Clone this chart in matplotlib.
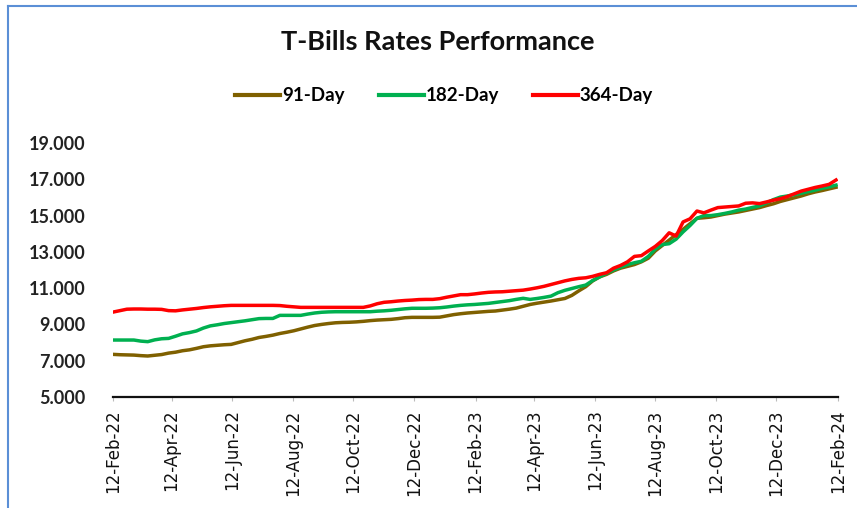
import matplotlib
matplotlib.use('Agg')
import matplotlib.pyplot as plt
import matplotlib.dates as mdates
from matplotlib.lines import Line2D
import pandas as pd

# weekly auction dates
dates = pd.date_range('2022-02-12', periods=105, freq='7D')

rate91 = [7.35, 7.33, 7.32, 7.31, 7.28, 7.26, 7.30, 7.34, 7.42, 7.47,
          7.55, 7.60, 7.68, 7.77, 7.82, 7.85, 7.88, 7.90, 8.00, 8.10,
          8.18, 8.28, 8.34, 8.41, 8.50, 8.57, 8.65, 8.75, 8.85, 8.94,
          9.00, 9.05, 9.09, 9.11, 9.12, 9.14, 9.17, 9.21, 9.24, 9.26,
          9.28, 9.32, 9.37, 9.39, 9.39, 9.39, 9.39, 9.40, 9.47, 9.54,
          9.59, 9.63, 9.66, 9.69, 9.72, 9.74, 9.79, 9.84, 9.90, 10.00,
          10.10, 10.17, 10.23, 10.29, 10.36, 10.43, 10.60, 10.85, 11.08, 11.40,
          11.62, 11.76, 11.95, 12.10, 12.20, 12.30, 12.45, 12.65, 13.05, 13.35,
          13.65, 13.95, 14.24, 14.55, 14.85, 14.88, 14.92, 15.00, 15.08, 15.14,
          15.20, 15.28, 15.36, 15.44, 15.55, 15.65, 15.78, 15.88, 15.98, 16.08,
          16.20, 16.30, 16.38, 16.47, 16.56]

rate182 = [8.14, 8.14, 8.14, 8.14, 8.08, 8.05, 8.15, 8.21, 8.23, 8.35,
           8.48, 8.55, 8.64, 8.80, 8.92, 8.98, 9.05, 9.10, 9.15, 9.20,
           9.26, 9.32, 9.33, 9.33, 9.50, 9.50, 9.50, 9.50, 9.57, 9.63,
           9.67, 9.69, 9.70, 9.70, 9.70, 9.70, 9.70, 9.70, 9.73, 9.75,
           9.78, 9.82, 9.86, 9.89, 9.89, 9.89, 9.90, 9.92, 9.96, 10.01,
           10.05, 10.08, 10.10, 10.13, 10.16, 10.21, 10.26, 10.31, 10.38, 10.44,
           10.38, 10.43, 10.49, 10.56, 10.75, 10.88, 10.98, 11.08, 11.17, 11.42,
           11.62, 11.82, 12.00, 12.15, 12.30, 12.40, 12.48, 12.75, 13.15, 13.40,
           13.45, 13.70, 14.10, 14.45, 14.85, 15.00, 15.00, 15.05, 15.12, 15.20,
           15.30, 15.36, 15.45, 15.53, 15.70, 15.88, 16.02, 16.08, 16.15, 16.23,
           16.32, 16.40, 16.50, 16.58, 16.68]

rate364 = [9.68, 9.76, 9.84, 9.85, 9.85, 9.84, 9.84, 9.83, 9.76, 9.75,
           9.80, 9.84, 9.88, 9.93, 9.97, 10.00, 10.03, 10.05, 10.05, 10.05,
           10.05, 10.05, 10.05, 10.05, 10.04, 10.00, 9.97, 9.94, 9.94, 9.94,
           9.94, 9.94, 9.94, 9.94, 9.94, 9.94, 9.94, 10.02, 10.14, 10.22,
           10.25, 10.29, 10.32, 10.34, 10.37, 10.38, 10.38, 10.42, 10.50, 10.57,
           10.64, 10.64, 10.68, 10.73, 10.77, 10.79, 10.80, 10.83, 10.86, 10.89,
           10.95, 11.02, 11.10, 11.20, 11.30, 11.40, 11.48, 11.54, 11.57, 11.65,
           11.76, 11.85, 12.10, 12.25, 12.45, 12.75, 12.79, 13.05, 13.30, 13.62,
           14.05, 13.87, 14.65, 14.82, 15.25, 15.15, 15.30, 15.44, 15.47, 15.50,
           15.53, 15.68, 15.70, 15.66, 15.75, 15.85, 15.93, 16.05, 16.20, 16.35,
           16.45, 16.55, 16.63, 16.72, 16.96]

labels = ['91-Day', '182-Day', '364-Day']
colors = ['#7F6000', '#00B050', '#FF0000']
yticks = [5, 7, 9, 11, 13, 15, 17, 19]
xtick_dates = ['2022-02-12', '2022-04-12', '2022-06-12', '2022-08-12', '2022-10-12',
               '2022-12-12', '2023-02-12', '2023-04-12', '2023-06-12', '2023-08-12',
               '2023-10-12', '2023-12-12', '2024-02-12']

fig = plt.figure(figsize=(8.57, 5.08), dpi=100)
ax = fig.add_axes([113/857, 1 - 397/508, (838 - 113)/857, (397 - 143)/508])

for series, lab, col in zip([rate91, rate182, rate364], labels, colors):
    ax.plot(dates, series, color=col, linewidth=2.5, label=lab, solid_joinstyle='round')

ax.set_ylim(5, 19)
ax.set_xlim(pd.Timestamp('2022-02-12'), pd.Timestamp('2024-02-12'))
ax.set_yticks(yticks)
ax.set_yticklabels(['%.3f' % v for v in yticks], fontfamily='Lato',
                   fontweight='bold', fontsize=13, color='#222222')
ax.tick_params(axis='y', length=0, pad=20)

ax.set_xticks(pd.to_datetime(xtick_dates))
ax.xaxis.set_major_formatter(mdates.DateFormatter('%d-%b-%y'))
for t in ax.get_xticklabels():
    t.set_rotation(90)
    t.set_fontsize(12)
    t.set_fontfamily('DejaVu Sans')
    t.set_color('#111111')
ax.tick_params(axis='x', length=3, color='#bbbbbb', pad=6)

for s in ['left', 'right', 'top']:
    ax.spines[s].set_visible(False)
ax.spines['bottom'].set_linewidth(1.6)
ax.spines['bottom'].set_color('#111111')

fig.text(438/857, 1 - 42/508, 'T-Bills Rates Performance', ha='center', va='center',
         fontfamily='Lato', fontweight='bold', fontsize=19.5, color='#111111')

handles = [Line2D([], [], color=c, linewidth=3) for c in colors]
leg = fig.legend(handles, labels, loc='center', bbox_to_anchor=(444/857, 1 - 96/508),
                 ncol=3, frameon=False, handlelength=2.4, handletextpad=0.1,
                 columnspacing=1.8, prop={'family': 'Lato', 'weight': 'bold', 'size': 13.5})

# chart area border (left and top edge visible)
fig.add_artist(Line2D([8/857, 8/857], [0, 1 - 6/508], transform=fig.transFigure,
                      color='#5B8FD6', linewidth=1.5))
fig.add_artist(Line2D([8/857, 1], [1 - 6/508, 1 - 6/508], transform=fig.transFigure,
                      color='#5B8FD6', linewidth=1.5))

fig.savefig('out.png', dpi=100)
